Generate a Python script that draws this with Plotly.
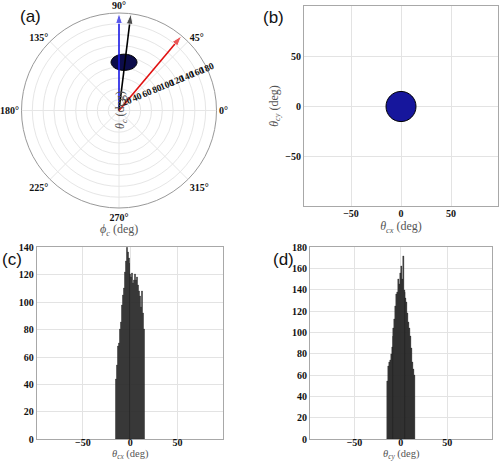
import plotly.graph_objects as go

# ---------------- data ----------------
# (a) polar: arrow directions (phi_c, deg) and lengths (theta_c, deg)
arrow_names = ["blue", "black", "red"]
arrow_phi = [90, 83, 50]
arrow_theta = [180, 180, 180]
arrow_colors = ["#1a1ae6", "#000000", "#e01010"]

# (a) outline of the point cloud in polar coordinates (theta_c, phi_c)
blob_a_r = [95.0, 101.1, 104.2, 104.4, 102.0, 97.2, 90.2, 82.3, 76.0, 74.6, 78.9, 86.9, 95.0]
blob_a_phi = [69.5, 72.7, 78.2, 84.9, 91.5, 96.8, 99.4, 98.0, 92.0, 82.8, 74.3, 69.7, 69.5]

# (b) outline of the point cloud (theta_cx, theta_cy)
blob_b_x = [15, 13.9, 10.6, 5.7, 0, -5.7, -10.6, -13.9, -15, -13.9, -10.6, -5.7, 0, 5.7, 10.6, 13.9, 15]
blob_b_y = [0, 5.7, 10.6, 13.9, 15, 13.9, 10.6, 5.7, 0, -5.7, -10.6, -13.9, -15, -13.9, -10.6, -5.7, 0]

# (c), (d) histograms
bin_centers = [-14.5, -13.5, -12.5, -11.5, -10.5, -9.5, -8.5, -7.5, -6.5, -5.5,
               -4.5, -3.5, -2.5, -1.5, -0.5, 0.5, 1.5, 2.5, 3.5, 4.5,
               5.5, 6.5, 7.5, 8.5, 9.5, 10.5, 11.5, 12.5, 13.5, 14.5]
counts_cx = [44, 54, 68, 70, 80, 85, 98, 105, 110, 122,
             130, 140, 136, 132, 128, 120, 118, 121, 114, 116,
             120, 116, 118, 112, 108, 104, 96, 108, 92, 80]
counts_cy = [54, 68, 72, 74, 80, 86, 96, 104, 112, 125,
             136, 138, 150, 145, 156, 162, 150, 172, 140, 138,
             132, 128, 118, 110, 104, 96, 85, 72, 65, 60]

polar_ticks_r = [20, 40, 60, 80, 100, 120, 140, 160, 180]
polar_ticks_phi = [0, 45, 90, 135, 180, 225, 270, 315]
polar_ticktext_phi = ["0°", "45°", "90°", "135°", "180°", "225°", "270°", "315°"]
cart_ticks = [-50, 0, 50]

# ---------------- figure ----------------
W, H = 501, 462
SERIF = '"Liberation Serif", "Times New Roman", serif'
tickfont = dict(family=SERIF, size=10, color="#111", weight="bold")
titlefont = dict(family=SERIF, size=12, color="#555")

fig = go.Figure()

# (a) blob
fig.add_trace(go.Scatterpolar(
    r=blob_a_r, theta=blob_a_phi, mode="lines", fill="toself",
    fillcolor="#0c0c4a", line=dict(color="#000", width=1, shape="spline"),
    subplot="polar", showlegend=False, hoverinfo="skip"))

# (a) arrows
for name, phi, th, col in zip(arrow_names, arrow_phi, arrow_theta, arrow_colors):
    fig.add_trace(go.Scatterpolar(
        r=[0, th], theta=[phi, phi], mode="lines+markers",
        line=dict(color=col, width=1.6),
        marker=dict(symbol=["circle", "arrow"], size=[0, 11], color=col,
                    angleref="previous", standoff=0),
        cliponaxis=False, subplot="polar", showlegend=False, name=name))

# (b) blob
fig.add_trace(go.Scatter(
    x=blob_b_x, y=blob_b_y, mode="lines", fill="toself",
    fillcolor="#16169c", line=dict(color="#000", width=1, shape="spline"),
    xaxis="x", yaxis="y", showlegend=False, hoverinfo="skip"))

# (c) histogram
fig.add_trace(go.Bar(x=bin_centers, y=counts_cx, width=1.0,
                     marker=dict(color="#2e2e2e", line=dict(color="#1e1e1e", width=0.4)),
                     xaxis="x2", yaxis="y2", showlegend=False))
# (d) histogram
fig.add_trace(go.Bar(x=bin_centers, y=counts_cy, width=1.0,
                     marker=dict(color="#2e2e2e", line=dict(color="#1e1e1e", width=0.4)),
                     xaxis="x3", yaxis="y3", showlegend=False))


def cart_axis(domain, rng, tickvals, anchor, title=None, standoff=4, lab_off=None):
    d = dict(domain=domain, range=rng, tickvals=tickvals, anchor=anchor,
             showgrid=True, gridcolor="#e3e3e3", gridwidth=1,
             showline=True, linecolor="#a8a8a8", linewidth=1, mirror=True,
             zeroline=False, ticks="", tickfont=tickfont, ticklen=0,
             fixedrange=True)
    if lab_off is not None:
        d["ticklabelstandoff"] = lab_off
    if title:
        d["title"] = dict(text=title, font=titlefont, standoff=standoff)
    return d


pxX = lambda a, b: [a / W, b / W]
pxY = lambda top, bot: [1 - bot / H, 1 - top / H]

polar_font = dict(family=SERIF, size=10, color="#111", weight="bold")

fig.update_layout(
    width=W, height=H, margin=dict(l=0, r=0, t=0, b=0),
    paper_bgcolor="white", plot_bgcolor="white", template="none",
    bargap=0,
    polar=dict(
        domain=dict(x=pxX(21.5, 216.5), y=pxY(13, 208)),
        bgcolor="white",
        radialaxis=dict(range=[0, 180], tickvals=polar_ticks_r, angle=22.5,
                        tickangle=0, side="counterclockwise", showline=False, ticks="",
                        gridcolor="#e6e6e6",
                        tickfont=dict(family=SERIF, size=9.5, color="#111", weight="bold")),
        angularaxis=dict(tickvals=polar_ticks_phi, ticktext=polar_ticktext_phi,
                         direction="counterclockwise",
                         rotation=0, showline=True, linecolor="#999", linewidth=1,
                         gridcolor="#e6e6e6", ticks="", tickfont=polar_font),
    ),
    xaxis=cart_axis(pxX(304, 498), [-97, 97], cart_ticks, "y",
                    "<i>θ</i><sub><i>cx</i></sub> (deg)", 0, -2),
    yaxis=cart_axis(pxY(6, 206), [-99, 100], cart_ticks, "x",
                    "<i>θ</i><sub><i>cy</i></sub> (deg)", 4),
    xaxis2=cart_axis(pxX(36.7, 222.7), [-99, 98], cart_ticks, "y2", None, 0, -6),
    yaxis2=cart_axis(pxY(247.3, 439.3), [0, 140], list(range(0, 141, 20)), "x2"),
    xaxis3=cart_axis(pxX(310, 491.7), [-98, 98], cart_ticks, "y3", None, 0, -6),
    yaxis3=cart_axis(pxY(247.3, 439), [0, 180], list(range(0, 181, 20)), "x3"),
)

annos = [
    dict(text="(a)", x=18 / W, y=1 - 5 / H),
    dict(text="(b)", x=261 / W, y=1 - 6 / H),
    dict(text="(c)", x=0 / W, y=1 - 248 / H),
    dict(text="(d)", x=271 / W, y=1 - 248 / H),
]
for a in annos:
    fig.add_annotation(text=a["text"], x=a["x"], y=a["y"], xref="paper", yref="paper",
                       xanchor="left", yanchor="top", showarrow=False,
                       font=dict(family="Liberation Sans", size=17, color="#111"))

small_title = dict(family=SERIF, size=10.5, color="#555")
fig.add_annotation(text="<i>θ</i><sub><i>cx</i></sub> (deg)", x=130.5 / W, y=0,
                   xref="paper", yref="paper", xanchor="center", yanchor="bottom",
                   showarrow=False, font=small_title, borderpad=0)
fig.add_annotation(text="<i>θ</i><sub><i>cy</i></sub> (deg)", x=401 / W, y=0,
                   xref="paper", yref="paper", xanchor="center", yanchor="bottom",
                   showarrow=False, font=small_title, borderpad=0)

fig.add_annotation(text="<i>ϕ</i><sub><i>c</i></sub> (deg)", x=119 / W, y=1 - 230 / H,
                   xref="paper", yref="paper", xanchor="center", yanchor="middle",
                   showarrow=False, font=titlefont)
fig.add_annotation(text="<i>θ</i><sub><i>c</i></sub> (deg)", x=121 / W, y=1 - 110 / H,
                   xref="paper", yref="paper", xanchor="center", yanchor="middle",
                   showarrow=False, font=titlefont, textangle=-90)

fig.write_html("out.html")
